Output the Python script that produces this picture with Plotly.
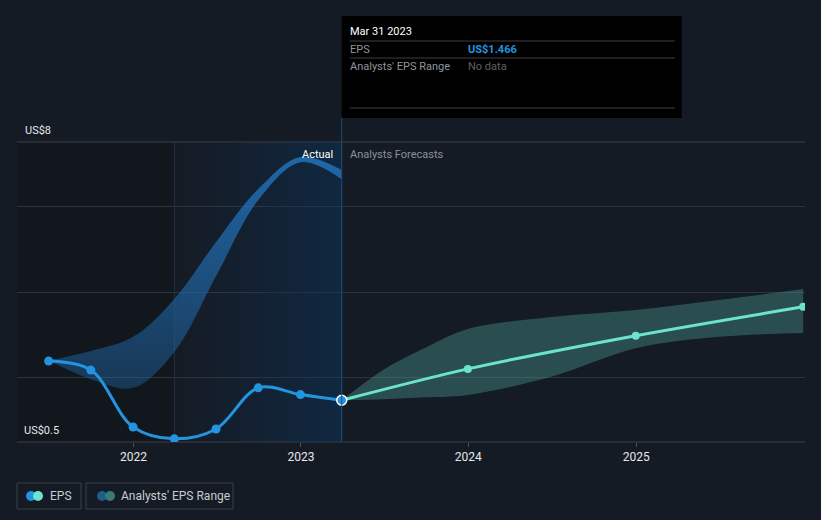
import plotly.graph_objects as go

# ---------------- data ----------------
eps_dates = ["2021-06-30", "2021-09-30", "2021-12-31", "2022-03-31",
             "2022-06-30", "2022-09-30", "2022-12-31", "2023-03-31"]
eps_values = [2.46, 2.23, 0.79, 0.49, 0.74, 1.78, 1.61, 1.466]

forecast_dates = ["2023-03-31", "2023-12-31", "2024-12-31", "2025-12-31"]
forecast_values = [1.466, 2.26, 3.10, 3.83]

past_range_dates = eps_dates
past_range_low = [2.47, 2.00, 1.78, 2.69, 4.61, 6.53, 7.49, 7.06]
past_range_high = [2.47, 2.71, 3.07, 4.03, 5.47, 6.81, 7.62, 7.29]

fc_range_dates = ["2023-03-31", "2023-06-30", "2023-09-30", "2023-12-31",
                  "2024-06-30", "2024-12-31", "2025-06-30", "2025-12-31"]
fc_range_low = [1.466, 1.49, 1.54, 1.60, 2.06, 2.78, 3.07, 3.17]
fc_range_high = [1.466, 2.24, 2.80, 3.27, 3.57, 3.75, 4.00, 4.28]

x_ticks = ["2022-01-01", "2023-01-01", "2024-01-01", "2025-01-01"]
x_tick_labels = ["2022", "2023", "2024", "2025"]
y_grid = [2.03, 4.2, 6.38]
y_label_top = "US$8"
y_label_bottom = "US$0.5"

x_range = ["2021-04-22", "2026-01-04"]
y_range = [0.41, 8.0]

highlight_start = "2022-03-31"
today = "2023-03-31"

tooltip_date = "Mar 31 2023"
tooltip_eps = "US$1.466"

# ---------------- style ----------------
BG = "#151b24"
FONT = "Roboto"
BLUE = "#2394df"
TEAL = "#6ce3cf"

fig = go.Figure()

# highlighted "last 12 months" region with horizontal gradient
fig.add_trace(go.Scatter(
    x=[highlight_start, today, today, highlight_start, highlight_start],
    y=[y_range[0], y_range[0], y_range[1], y_range[1], y_range[0]],
    mode="lines", line=dict(width=0), fill="toself",
    fillgradient=dict(type="horizontal",
                      colorscale=[[0, "rgba(10,55,100,0.0)"], [1, "rgba(10,55,100,0.45)"]]),
    hoverinfo="skip", showlegend=False))

# past analyst range (blue band)
fig.add_trace(go.Scatter(x=past_range_dates, y=past_range_low, mode="lines",
                         line=dict(width=0, shape="spline", smoothing=1.0),
                         hoverinfo="skip", showlegend=False))
fig.add_trace(go.Scatter(x=past_range_dates, y=past_range_high, mode="lines",
                         line=dict(width=0, shape="spline", smoothing=1.0),
                         fill="tonexty",
                         fillgradient=dict(type="vertical",
                                           colorscale=[[0, "rgba(33,105,170,0.40)"],
                                                       [1, "rgba(33,112,182,0.88)"]]),
                         hoverinfo="skip", showlegend=False))

# forecast range (teal band)
fig.add_trace(go.Scatter(x=fc_range_dates, y=fc_range_low, mode="lines",
                         line=dict(width=0, shape="spline", smoothing=1.0),
                         hoverinfo="skip", showlegend=False))
fig.add_trace(go.Scatter(x=fc_range_dates, y=fc_range_high, mode="lines",
                         line=dict(width=0, shape="spline", smoothing=1.0),
                         fill="tonexty", fillcolor="rgba(75,155,145,0.40)",
                         hoverinfo="skip", showlegend=False))

# forecast line
fig.add_trace(go.Scatter(x=forecast_dates[1:], y=forecast_values[1:], mode="markers",
                         marker=dict(size=8, color=TEAL),
                         hoverinfo="skip", showlegend=False))
fig.add_trace(go.Scatter(x=forecast_dates, y=forecast_values, mode="lines",
                         line=dict(color=TEAL, width=3, shape="spline", smoothing=0.8),
                         hoverinfo="skip", showlegend=False))

# EPS actual line
fig.add_trace(go.Scatter(x=eps_dates, y=eps_values, mode="lines+markers",
                         line=dict(color=BLUE, width=3, shape="spline", smoothing=1.0),
                         marker=dict(size=9, color=BLUE),
                         hoverinfo="skip", showlegend=False))
fig.add_trace(go.Scatter(x=[eps_dates[-1]], y=[eps_values[-1]], mode="markers",
                         marker=dict(size=10, color=BLUE, line=dict(color="white", width=1.5)),
                         hoverinfo="skip", showlegend=False))

shapes = []
# darker area before highlight
shapes.append(dict(type="rect", xref="x", yref="paper", x0=x_range[0], x1=highlight_start,
                   y0=0, y1=1, fillcolor="#12161d", line=dict(width=0), layer="below"))
# faint line at highlight start
shapes.append(dict(type="line", xref="x", yref="paper", x0=highlight_start, x1=highlight_start,
                   y0=0, y1=1, line=dict(color="#1f3044", width=1), layer="below"))
# top and bottom boundary lines
for yy in [0, 1]:
    shapes.append(dict(type="line", xref="paper", yref="paper", x0=0, x1=1, y0=yy, y1=yy,
                       line=dict(color="#3a3f47", width=1), layer="below"))
# today line
shapes.append(dict(type="line", xref="x", yref="paper", ysizemode="pixel", yanchor=0,
                   x0=today, x1=today, y0=0, y1=324,
                   line=dict(color="#1d4f78", width=1)))

# tooltip box
shapes.append(dict(type="rect", xref="x", yref="paper", xsizemode="pixel", ysizemode="pixel",
                   xanchor=today, yanchor=1, x0=0, x1=340, y0=24, y1=126,
                   fillcolor="#000000", line=dict(width=0)))
for yy in [101, 84, 34]:
    shapes.append(dict(type="line", xref="x", yref="paper", xsizemode="pixel", ysizemode="pixel",
                       xanchor=today, yanchor=1, x0=8, x1=333, y0=yy, y1=yy,
                       line=dict(color="#3d3f43", width=1)))

# legend boxes
for x0, x1 in [(0, 64), (69, 216)]:
    shapes.append(dict(type="rect", xref="paper", yref="paper", xsizemode="pixel", ysizemode="pixel",
                       xanchor=0, yanchor=0, x0=x0, x1=x1, y0=-41, y1=-67,
                       line=dict(color="#3a404a", width=1), fillcolor="rgba(0,0,0,0)"))
for cx, col in [(14, BLUE), (21, TEAL), (85, "#1f5d8c"), (93, "#3b7a73")]:
    shapes.append(dict(type="circle", xref="paper", yref="paper", xsizemode="pixel", ysizemode="pixel",
                       xanchor=0, yanchor=0, x0=cx - 5, x1=cx + 5, y0=-49, y1=-59,
                       fillcolor=col, line=dict(width=0)))

annotations = [
    dict(text=y_label_top, xref="paper", yref="y", x=0, y=y_range[1], xanchor="left", yanchor="middle",
         xshift=6, yshift=12, showarrow=False, font=dict(color="#e6e8eb", size=11, family=FONT)),
    dict(text=y_label_bottom, xref="paper", yref="y", x=0, y=y_range[0], xanchor="left", yanchor="middle",
         xshift=5, yshift=12, showarrow=False, font=dict(color="#e6e8eb", size=11, family=FONT)),
    dict(text="Actual", xref="x", yref="paper", x=today, y=1, xanchor="right", yanchor="middle",
         xshift=-7, yshift=-12, showarrow=False, font=dict(color="#ffffff", size=11, family=FONT)),
    dict(text="Analysts Forecasts", xref="x", yref="paper", x=today, y=1, xanchor="left", yanchor="middle",
         xshift=6, yshift=-12, showarrow=False, font=dict(color="#8b9097", size=11, family=FONT)),
    dict(text=tooltip_date, xref="x", yref="paper", x=today, y=1, xanchor="left", yanchor="middle",
         xshift=6, yshift=111, showarrow=False, font=dict(color="#ffffff", size=11, family=FONT)),
    dict(text="EPS", xref="x", yref="paper", x=today, y=1, xanchor="left", yanchor="middle",
         xshift=6, yshift=93, showarrow=False, font=dict(color="#8f949b", size=11, family=FONT)),
    dict(text=f"<b>{tooltip_eps}</b>", xref="x", yref="paper", x=today, y=1, xanchor="left", yanchor="middle",
         xshift=124, yshift=93, showarrow=False, font=dict(color=BLUE, size=11, family=FONT)),
    dict(text="Analysts' EPS Range", xref="x", yref="paper", x=today, y=1, xanchor="left", yanchor="middle",
         xshift=6, yshift=76, showarrow=False, font=dict(color="#8f949b", size=11, family=FONT)),
    dict(text="No data", xref="x", yref="paper", x=today, y=1, xanchor="left", yanchor="middle",
         xshift=124, yshift=76, showarrow=False, font=dict(color="#5c6066", size=11, family=FONT)),
    dict(text="EPS", xref="paper", yref="paper", x=0, y=0, xanchor="left", yanchor="middle",
         xshift=31, yshift=-54, showarrow=False, font=dict(color="#c9ccd0", size=12, family=FONT)),
    dict(text="Analysts' EPS Range", xref="paper", yref="paper", x=0, y=0, xanchor="left", yanchor="middle",
         xshift=102, yshift=-54, showarrow=False, font=dict(color="#c9ccd0", size=12, family=FONT)),
]

fig.update_layout(
    width=821, height=520,
    margin=dict(l=17, r=16, t=142, b=78),
    paper_bgcolor=BG, plot_bgcolor=BG,
    showlegend=False,
    shapes=shapes,
    annotations=annotations,
    xaxis=dict(type="date", range=x_range, tickvals=x_ticks, ticktext=x_tick_labels,
               showgrid=False, zeroline=False, showline=False,
               ticks="outside", ticklen=4, tickcolor="#4a4f57",
               tickfont=dict(color="#e6e8eb", size=12, family=FONT)),
    yaxis=dict(range=y_range, tickvals=y_grid, showticklabels=False,
               showgrid=True, gridcolor="#2f343c", gridwidth=1,
               zeroline=False, showline=False),
    font=dict(family=FONT),
)

fig.write_html("out.html")
